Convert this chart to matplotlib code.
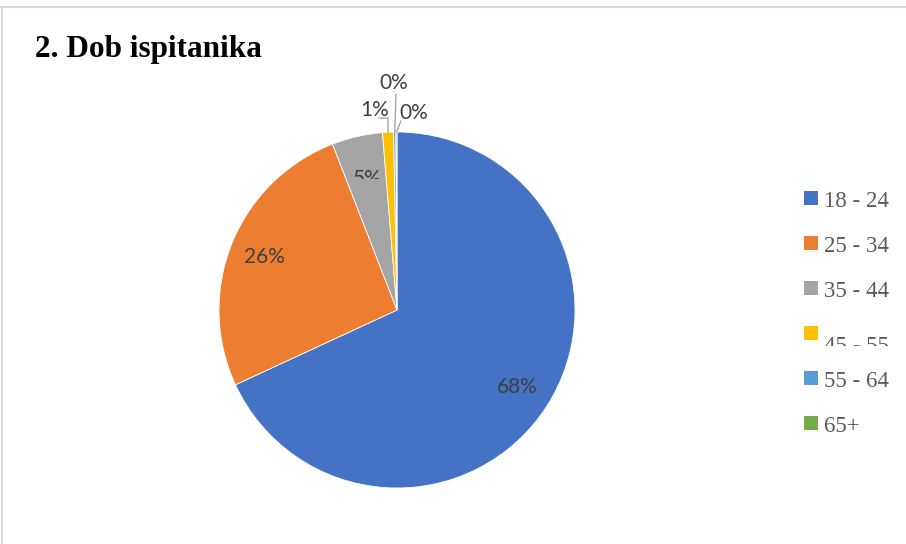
import numpy as np
import matplotlib as mpl
mpl.use('Agg')
import matplotlib.pyplot as plt
from matplotlib.patches import Rectangle
from matplotlib.lines import Line2D

# data
categories = ['18 - 24', '25 - 34', '35 - 44', '45 - 55', '55 - 64', '65+']
shares = [68.1, 26.0, 4.6, 1.0, 0.2, 0.1]
colors = ['#4472C4', '#ED7D31', '#A5A5A5', '#FFC000', '#5B9BD5', '#70AD47']
title = '2. Dob ispitanika'

W, H = 906, 544
fig = plt.figure(figsize=(W / 100, H / 100), dpi=100)
fig.patch.set_facecolor('white')

def fx(x):
    return x / W

def fy(y):
    return 1 - y / H

# frame lines (top and left)
fig.add_artist(Line2D([0, 1], [fy(6.5), fy(6.5)], color='#D9D9D9', lw=1.5, transform=fig.transFigure))
fig.add_artist(Line2D([fx(1.5), fx(1.5)], [0, fy(6.5)], color='#D9D9D9', lw=1.5, transform=fig.transFigure))

fig.text(fx(35), fy(57), title, fontfamily='Liberation Serif', fontweight='bold',
         fontsize=22.5, color='black', ha='left', va='baseline')

ax = fig.add_axes([0, 0, 1, 1])
cx, cy, r = 397, H - 310, 178
wedges, texts, autotexts = ax.pie(shares, colors=colors, startangle=90, counterclock=False,
                                  center=(cx, cy), radius=r, autopct='%.0f%%', pctdistance=0.8,
                                  wedgeprops=dict(edgecolor='white', linewidth=0.6),
                                  textprops=dict(fontfamily='Lato', fontsize=15, color='#404040'))
ax.set_xlim(0, W)
ax.set_ylim(0, H)
ax.axis('off')

# 5% label sits a bit lower and is cut at its lower part in the original
w = wedges[2]
ang = np.deg2rad((w.theta1 + w.theta2) / 2)
autotexts[2].set_position((cx + 0.755 * r * np.cos(ang), cy + 0.755 * r * np.sin(ang)))
clip = Rectangle((0, fy(178.5)), 1, 1, transform=fig.transFigure, visible=False)
fig.add_artist(clip)
autotexts[2].set_clip_path(clip)
autotexts[2].set_clip_on(True)

# small slices: labels outside with leader lines
lead = '#A6A6A6'
small = {3: ((375, 110), [(388, 118), (379, 118)]),
         4: ((394, 83), [(396, 94)]),
         5: ((414, 113), [(401, 121)])}
for i, (pos, pts) in small.items():
    w = wedges[i]
    ang = np.deg2rad((w.theta1 + w.theta2) / 2)
    ex, ey = cx + r * np.cos(ang), cy + r * np.sin(ang)
    xs = [ex] + [p[0] for p in pts]
    ys = [ey] + [H - p[1] for p in pts]
    ax.plot(xs, ys, color=lead, lw=1)
    autotexts[i].set_position((pos[0], H - pos[1]))
    autotexts[i].set_ha('center')
    autotexts[i].set_va('center')

# legend
row_y = [198, 243, 288, 332.5, 378, 423]
for i, lab in enumerate(categories):
    yc = row_y[i]
    fig.add_artist(Rectangle((fx(804), fy(yc + 7)), 14 / W, 14 / H, transform=fig.transFigure,
                             facecolor=wedges[i].get_facecolor(), edgecolor='none'))
    base = yc + 8.7
    if i == 3:
        base = yc + 19.5
    t = fig.text(fx(824), fy(base), lab, fontfamily='Liberation Serif', fontsize=16.5,
                 color='#595959', ha='left', va='baseline')
    if i == 3:
        c2 = Rectangle((0, fy(346)), 1, 1, transform=fig.transFigure, visible=False)
        fig.add_artist(c2)
        t.set_clip_path(c2)

fig.savefig('out.png', dpi=100)
